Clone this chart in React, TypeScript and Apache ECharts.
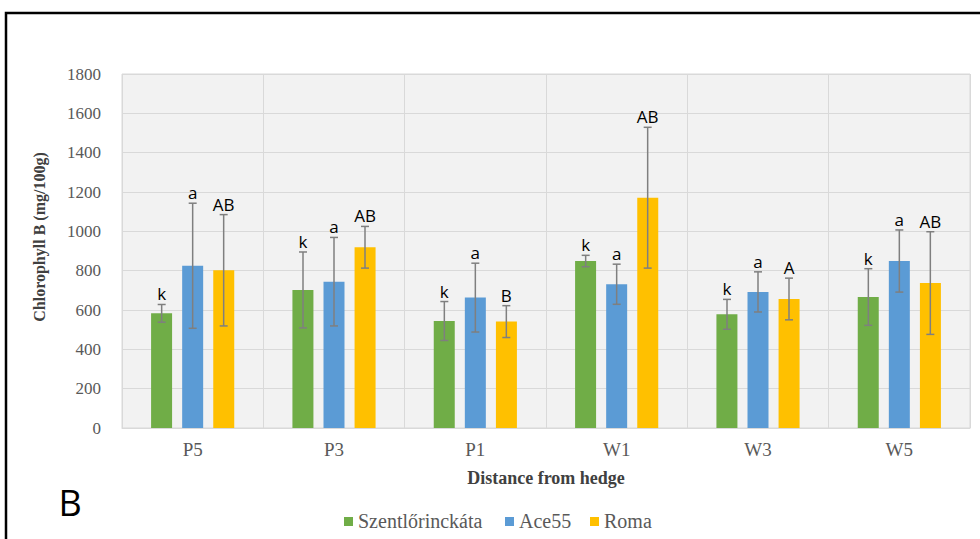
import React, { useEffect, useRef } from "react";
import * as echarts from "echarts";

const categories = ["P5", "P3", "P1", "W1", "W3", "W5"];
const seriesNames = ["Szentlőrinckáta", "Ace55", "Roma"];
const szentValues = [583, 702, 544, 849, 578, 666];
const szentErrors = [45, 193, 99, 29, 76, 144];
const szentLetters = ["k", "k", "k", "k", "k", "k"];
const aceValues = [825, 744, 663, 731, 692, 849];
const aceErrors = [318, 225, 175, 102, 102, 158];
const aceLetters = ["a", "a", "a", "a", "a", "a"];
const romaValues = [802, 919, 541, 1171, 656, 737];
const romaErrors = [283, 106, 81, 358, 106, 261];
const romaLetters = ["AB", "AB", "B", "AB", "A", "AB"];
const yTicks = [0, 200, 400, 600, 800, 1000, 1200, 1400, 1600, 1800];

const colors = ["#70ad47", "#5b9bd5", "#ffc000"];
const legendIconX = [344, 505, 590];
const BAR_W = 21;
const BAR_STEP = 31;
const SERIF = "Liberation Serif";

export default function App() {
  const ref = useRef<HTMLDivElement>(null);
  useEffect(() => {
    document.body.style.margin = "0";
    if (!ref.current) return;
    const chart = echarts.init(ref.current, null, { renderer: "svg" });
    const valuesList = [szentValues, aceValues, romaValues];
    const errList = [szentErrors, aceErrors, romaErrors];
    const lettersList = [szentLetters, aceLetters, romaLetters];

    const barSeries = seriesNames.map((name, i) => ({
      name,
      type: "bar",
      data: valuesList[i],
      barWidth: BAR_W,
      barGap: "48%",
      itemStyle: { color: colors[i] },
      z: 2,
    }));

    const errSeries = seriesNames.map((name, i) => ({
      name: name + " err",
      type: "custom",
      z: 5,
      data: categories.map((_, k) => [k, valuesList[i][k] - errList[i][k], valuesList[i][k] + errList[i][k]]),
      renderItem: (params: any, api: any) => {
        const x = api.value(0);
        const lo = api.coord([x, api.value(1)]);
        const hi = api.coord([x, api.value(2)]);
        const cx = lo[0] + (i - 1) * BAR_STEP;
        const stroke = { stroke: "#7f7f7f", lineWidth: 1.5 };
        return {
          type: "group",
          children: [
            { type: "line", shape: { x1: cx, y1: lo[1], x2: cx, y2: hi[1] }, style: stroke },
            { type: "line", shape: { x1: cx - 4, y1: lo[1], x2: cx + 4, y2: lo[1] }, style: stroke },
            { type: "line", shape: { x1: cx - 4, y1: hi[1], x2: cx + 4, y2: hi[1] }, style: stroke },
            {
              type: "text",
              x: cx,
              y: hi[1] - 2,
              style: {
                text: lettersList[i][params.dataIndex],
                fill: "#000",
                fontFamily: "Open Sans",
                fontSize: 17,
                align: "center",
                verticalAlign: "bottom",
              },
            },
          ],
        };
      },
    }));

    const legendGraphics: any[] = [];
    seriesNames.forEach((name, i) => {
      legendGraphics.push({
        type: "rect",
        shape: { x: legendIconX[i], y: 517, width: 9, height: 9 },
        style: { fill: colors[i] },
        z: 10,
      });
      legendGraphics.push({
        type: "text",
        x: legendIconX[i] + 14,
        y: 521,
        style: { text: name, fontFamily: SERIF, fontSize: 20, fill: "#595959", align: "left", verticalAlign: "middle" },
        z: 10,
      });
    });

    chart.setOption({
      animation: false,
      backgroundColor: "#fff",
      color: colors,
      textStyle: { fontFamily: SERIF },
      grid: { left: 122, right: 10, top: 74, bottom: 111, show: true, backgroundColor: "#f2f2f2", borderColor: "#d9d9d9", borderWidth: 1 },
      legend: { show: false, data: seriesNames },
      xAxis: {
        type: "category",
        data: categories,
        name: "Distance from hedge",
        nameLocation: "middle",
        nameGap: 41,
        nameTextStyle: { fontFamily: SERIF, fontSize: 18, fontWeight: "bold", color: "#404040" },
        axisLine: { lineStyle: { color: "#d9d9d9" } },
        axisTick: { show: false },
        axisLabel: { fontFamily: SERIF, fontSize: 19, color: "#595959", margin: 12 },
        splitLine: { show: true, lineStyle: { color: "#d9d9d9" } },
      },
      yAxis: {
        type: "value",
        min: yTicks[0],
        max: yTicks[yTicks.length - 1],
        interval: 200,
        name: "Chlorophyll B (mg/100g)",
        nameLocation: "middle",
        nameGap: 75,
        nameTextStyle: { fontFamily: SERIF, fontSize: 16, fontWeight: "bold", color: "#404040", padding: [0, 0, 0, 28] },
        axisLine: { show: false },
        axisTick: { show: false },
        axisLabel: { fontFamily: SERIF, fontSize: 17, color: "#595959", margin: 21, formatter: (v: number) => String(v) },
        splitLine: { lineStyle: { color: "#d9d9d9" } },
      },
      graphic: [
        { type: "rect", shape: { x: 6, y: 13, width: 1000, height: 600 }, style: { fill: "none", stroke: "#000", lineWidth: 2.5 }, z: 10 },
        { type: "text", x: 70, y: 502, style: { text: "B", fontFamily: "Open Sans", fontSize: 36, fill: "#000", align: "center", verticalAlign: "middle" }, z: 10 },
        ...legendGraphics,
      ],
      series: [...barSeries, ...errSeries],
    });
    return () => chart.dispose();
  }, []);
  return <div ref={ref} style={{ width: 980, height: 539 }} />;
}
